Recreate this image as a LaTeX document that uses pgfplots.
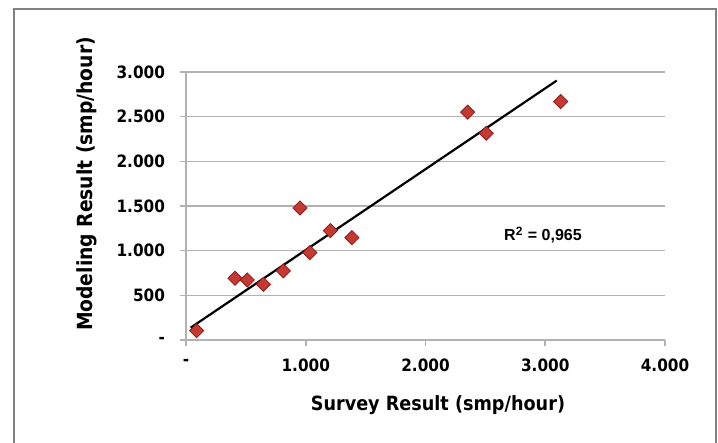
\documentclass[border=0pt]{standalone}
\usepackage{fontspec}
\setmainfont{DejaVu Sans Condensed}
\newfontfamily\arialb{Liberation Sans}
\usepackage{pgfplots}
\pgfplotsset{compat=1.18}
\definecolor{gridc}{RGB}{178,178,178}
\definecolor{markc}{RGB}{196,58,50}
\definecolor{markd}{RGB}{140,28,25}
\definecolor{framec}{RGB}{128,128,128}
\begin{document}
\begin{tikzpicture}[x=1pt,y=1pt]
\useasboundingbox (-93,-51.5) rectangle (266,170);
\draw[framec,line width=1pt] (-86,-60) -- (-86,165.5) -- (265,165.5) -- (265,-60);
\begin{axis}[at={(0,0)},anchor=south west,scale only axis,width=239.5pt,height=134pt,
xmin=0,xmax=4000,ymin=0,ymax=3000,
axis lines*=left,axis line style={gridc,line width=0.8pt},
xtick={0,1000,2000,3000,4000},xticklabels={-,1.000,2.000,3.000,4.000},
ytick={0,500,1000,1500,2000,2500,3000},yticklabels={-,500,1.000,1.500,2.000,2.500,3.000},
tick align=outside,major tick length=3pt,tick style={gridc,line width=0.8pt},
ymajorgrids=true,grid style={gridc,line width=0.8pt},
ticklabel style={font=\bfseries\fontsize{8.5}{10}\selectfont},
yticklabel style={xshift=-4pt},xticklabel style={yshift=-3pt},
xlabel={Survey Result (smp/hour)},ylabel={Modeling Result (smp/hour)},
every axis x label/.style={at={(axis description cs:0.526,-0.2425)},anchor=center,
  font=\bfseries\fontsize{9.8}{11}\selectfont},
every axis y label/.style={at={(axis description cs:-0.207,0.582)},rotate=90,anchor=center,
  font=\bfseries\fontsize{10.4}{12}\selectfont},
clip=false]
% survey vs modeled counts
\addplot[only marks,mark=square*,mark size=2.5pt,mark options={rotate=45,fill=markc,draw=markd,line width=0.4pt}] coordinates {
(89,104)(409,691)(512,672)(646,623)(813,773)(952,1478)(1035,978)(1205,1224)(1386,1146)(2352,2550)(2508,2314)(3129,2669)};
% linear trend line
\addplot[black,line width=1.1pt] coordinates {(39,138)(3096,2904)};
\node[font=\arialb\bfseries\fontsize{8}{9}\selectfont] at (axis cs:2981,1176) {R\textsuperscript{2} = 0,965};
\end{axis}
\end{tikzpicture}
\end{document}
